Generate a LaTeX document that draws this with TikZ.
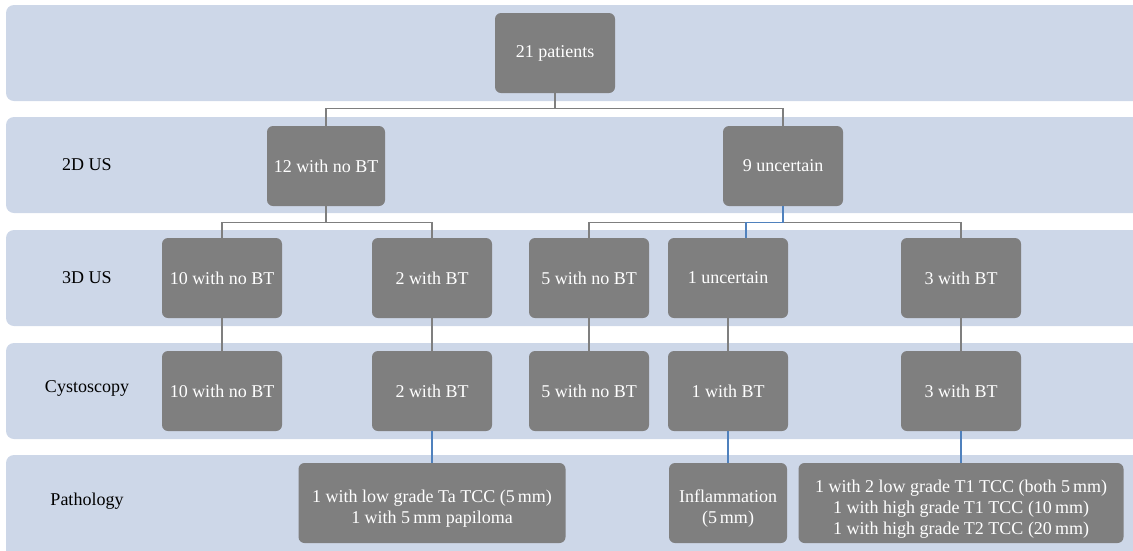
\documentclass[tikz,border=0pt]{standalone}
\usepackage{fontspec}
\setmainfont{Liberation Serif}
\definecolor{bandc}{HTML}{CDD7E8}
\definecolor{boxg}{HTML}{7F7F7F}
\definecolor{lineg}{HTML}{7F7F7F}
\definecolor{lineb}{HTML}{4F81BD}
\newcommand{\topstrut}{\rule{0pt}{24pt}}
\begin{document}
\begin{tikzpicture}[x=1pt,y=-1pt,
  box/.style={fill=boxg, rounded corners=6pt, text=white, minimum height=80pt,
    minimum width=120pt, font=\fontsize{18}{21}\selectfont, align=center, inner sep=0pt},
  lbl/.style={font=\fontsize{18}{21}\selectfont, text=black, inner sep=0pt},
  conn/.style={draw=lineg, line width=1.2pt},
  connb/.style={draw=lineb, line width=1.2pt}]
\useasboundingbox (0,0) rectangle (1133,550);
\clip (0,0) rectangle (1133,550);
\foreach \t/\b in {5/101,117/213,230/326,343/439,455/565}
  \fill[bandc, rounded corners=8pt] (6,\t) rectangle (1150,\b);
% row labels
\node[lbl] (l2) at (87,165) {2D US};
\node[lbl] (l3) at (87,278) {3D US};
\node[lbl] (l4) at (87,388) {Cystoscopy};
\node[lbl] (l5) at (87,501) {Pathology};
% row 1
\node[box] (root) at (555,53) {21 patients};
% row 2
\node[box, minimum width=118pt] (a) at (326,166) {12 with no BT};
\node[box] (b) at (783,166) {9 uncertain};
% row 3
\node[box] (a1) at (222,278) {10 with no BT};
\node[box] (a2) at (432,278) {2 with BT};
\node[box] (b1) at (589,278) {5 with no BT};
\node[box] (b2) at (728,278) {1 uncertain};
\node[box] (b3) at (961,278) {3 with BT};
% row 4
\node[box] (c1) at (222,391) {10 with no BT};
\node[box] (c2) at (432,391) {2 with BT};
\node[box] (c3) at (589,391) {5 with no BT};
\node[box] (c4) at (728,391) {1 with BT};
\node[box] (c5) at (961,391) {3 with BT};
% row 5
\node[box, minimum width=267pt] (p1) at (432,503) {\topstrut 1 with low grade Ta TCC (5\,mm)\\1 with 5\,mm papiloma};
\node[box, minimum width=118pt] (p2) at (728,503) {\topstrut Inflammation\\(5\,mm)};
\node[box, minimum width=325pt] (p3) at (961,503) {\topstrut 1 with 2 low grade T1 TCC (both 5\,mm)\\1 with high grade T1 TCC (10\,mm)\\1 with high grade T2 TCC (20\,mm)};
% connectors
\draw[conn] (root.south) -- ++(0,15) -| (a.north);
\draw[conn] (root.south) -- ++(0,15) -| (b.north);
\draw[conn] (a.south) -- ++(0,16) -| (a1.north);
\draw[conn] (a.south) -- ++(0,16) -| (a2.north);
\draw[conn] (b.south) -- ++(0,16) -| (b1.north);
\draw[conn] (b.south) -- ++(0,16) -| (b3.north);
\draw[connb] (b.south) -- ++(0,16) -| ([xshift=18pt]b2.north);
\draw[conn] (a1.south) -- (c1.north);
\draw[conn] (a2.south) -- (c2.north);
\draw[conn] (b1.south) -- (c3.north);
\draw[conn] (b2.south) -- (c4.north);
\draw[conn] (b3.south) -- (c5.north);
\draw[connb] (c2.south) -- (p1.north);
\draw[connb] (c4.south) -- (p2.north);
\draw[connb] (c5.south) -- (p3.north);
\end{tikzpicture}
\end{document}
